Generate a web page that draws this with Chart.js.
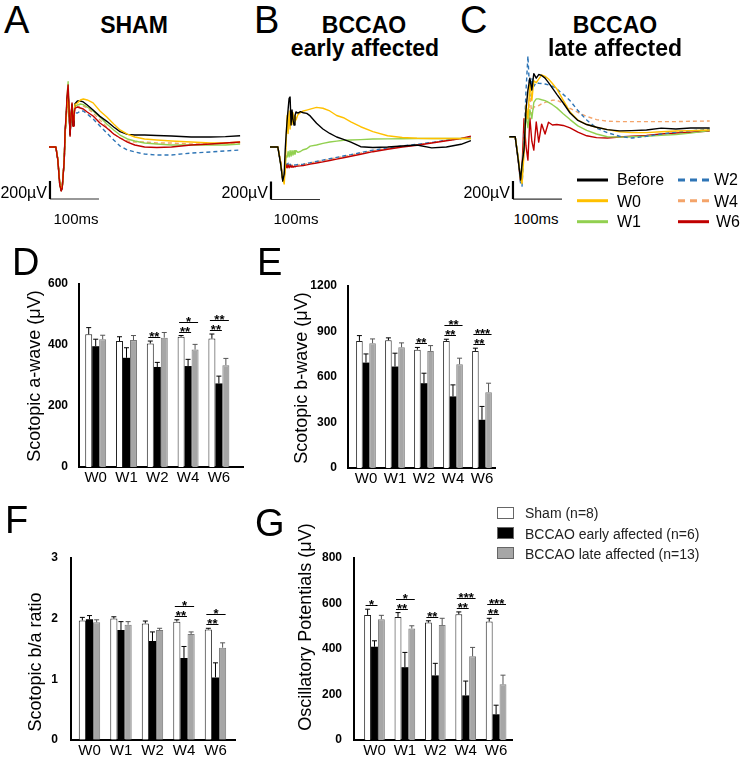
<!DOCTYPE html>
<html>
<head>
<meta charset="utf-8">
<title>ERG figure</title>
<script src="https://cdn.jsdelivr.net/npm/chart.js@4.4.1/dist/chart.umd.min.js"></script>
<style>
html,body{margin:0;padding:0;background:#fff;}
#fig{position:relative;width:740px;height:760px;overflow:hidden;font-family:"Liberation Sans",Arial,Helvetica,sans-serif;color:#000;}
#fig canvas{position:absolute;}
.tx{position:absolute;white-space:nowrap;line-height:1;}
.lt{font-size:38px;}
.ti{font-size:23px;font-weight:bold;transform:translateX(-50%);}
.sb{font-size:16px;transform:translateX(-100%);}
.ms{font-size:15px;transform:translateX(-50%);}
.lg{font-size:16px;}
.bl{font-size:14px;color:#222;}
.yt{font-size:18px;transform:translate(-50%,-50%) rotate(-90deg);}
svg.abs{position:absolute;overflow:visible;}
</style>
</head>
<body>
<div id="fig">
  <canvas id="cA" width="210" height="140" style="left:40px;top:70px"></canvas>
  <canvas id="cB" width="230" height="140" style="left:260px;top:70px"></canvas>
  <canvas id="cC" width="240" height="170" style="left:490px;top:40px"></canvas>
  <canvas id="cD" width="250" height="230" style="left:0px;top:260px"></canvas>
  <canvas id="cE" width="240" height="230" style="left:262px;top:262px"></canvas>
  <canvas id="cF" width="250" height="225" style="left:0px;top:535px"></canvas>
  <canvas id="cG" width="258" height="225" style="left:262px;top:535px"></canvas>

  <div class="tx lt" style="left:4px;top:1px">A</div>
  <div class="tx lt" style="left:254px;top:1px">B</div>
  <div class="tx lt" style="left:460px;top:1px">C</div>
  <div class="tx lt" style="left:12px;top:243px">D</div>
  <div class="tx lt" style="left:257px;top:243px">E</div>
  <div class="tx lt" style="left:5px;top:501px">F</div>
  <div class="tx lt" style="left:255px;top:504px">G</div>

  <div class="tx ti" style="left:134px;top:13.5px">SHAM</div>
  <div class="tx ti" style="left:364px;top:13.5px">BCCAO</div>
  <div class="tx ti" style="left:365px;top:37px">early affected</div>
  <div class="tx ti" style="left:615px;top:13.5px">BCCAO</div>
  <div class="tx ti" style="left:615px;top:37px">late affected</div>

  <div class="tx sb" style="left:47px;top:184.5px">200µV</div>
  <div class="tx sb" style="left:268px;top:184.5px">200µV</div>
  <div class="tx sb" style="left:510px;top:184.5px">200µV</div>
  <div class="tx ms" style="left:76px;top:211px">100ms</div>
  <div class="tx ms" style="left:296px;top:211px">100ms</div>
  <div class="tx ms" style="left:536px;top:211px">100ms</div>

  <svg class="abs" style="left:570px;top:170px" width="150" height="60">
    <line x1="7" y1="10" x2="38" y2="10" stroke="#000" stroke-width="3"/>
    <line x1="7" y1="30.7" x2="38" y2="30.7" stroke="#FFC000" stroke-width="3"/>
    <line x1="7" y1="51.7" x2="38" y2="51.7" stroke="#92D050" stroke-width="3"/>
    <line x1="108" y1="10" x2="139" y2="10" stroke="#2E75B6" stroke-width="3" stroke-dasharray="7 5"/>
    <line x1="108" y1="30.7" x2="139" y2="30.7" stroke="#F4A46A" stroke-width="3" stroke-dasharray="7 5"/>
    <line x1="108" y1="51.7" x2="139" y2="51.7" stroke="#C00000" stroke-width="3"/>
  </svg>
  <div class="tx lg" style="left:617px;top:172px">Before</div>
  <div class="tx lg" style="left:617px;top:193.5px">W0</div>
  <div class="tx lg" style="left:617px;top:214px">W1</div>
  <div class="tx lg" style="left:714px;top:172px">W2</div>
  <div class="tx lg" style="left:714px;top:193.5px">W4</div>
  <div class="tx lg" style="left:716px;top:214px">W6</div>

  <svg class="abs" style="left:490px;top:500px" width="40" height="70">
    <rect x="7.5" y="7.5" width="16" height="11" fill="#fff" stroke="#666" stroke-width="1"/>
    <rect x="7.5" y="27.5" width="16" height="11" fill="#000" stroke="#666" stroke-width="1"/>
    <rect x="7.5" y="47.5" width="16" height="11" fill="#a6a6a6" stroke="#666" stroke-width="1"/>
  </svg>
  <div class="tx bl" id="lg0" style="left:525px;top:506.2px"></div>
  <div class="tx bl" id="lg1" style="left:525px;top:526.7px"></div>
  <div class="tx bl" id="lg2" style="left:525px;top:546.7px"></div>

  <div class="tx yt" style="left:34px;top:375.5px">Scotopic a-wave (μV)</div>
  <div class="tx yt" style="left:301px;top:378px">Scotopic b-wave (μV)</div>
  <div class="tx yt" style="left:35px;top:662px">Scotopic b/a ratio</div>
  <div class="tx yt" style="left:305px;top:627px">Oscillatory Potentials (μV)</div>
</div>

<script>
// ================= DATA =================
// ERG traces: time (ms) and amplitude (µV)
const tA = [0,14,18,22,25,27,31,33,35,37,39,41,43,45,47,49,51,53,58,64,70,78,90,104,118,132,145,160,175,195,220,250,290,330,360,390];
const A_Before = [0,0,-140,-410,-480,-450,-160,170,330,540,620,380,140,350,470,240,360,480,511,511,500,466,411,340,285,222,170,140,133,133,128,122,111,111,115,125];
const A_W0 = [0,0,-130,-400,-470,-440,-150,150,300,480,560,380,200,350,440,300,380,470,488,522,533,522,490,400,333,255,189,144,111,89,78,67,55,44,44,55];
const A_W1 = [0,0,-140,-420,-485,-450,-150,180,340,570,725,400,130,350,480,240,360,450,466,477,470,444,400,333,255,189,133,89,67,44,33,22,22,22,22,33];
const A_W2 = [0,0,-140,-420,-480,-450,-160,160,320,520,600,380,130,330,430,220,330,380,377,400,400,366,311,233,155,78,11,-33,-55,-78,-89,-89,-67,-55,-44,-33];
const A_W4 = [0,0,-140,-420,-480,-450,-160,170,330,540,640,390,140,340,460,230,350,430,444,455,455,433,377,300,222,144,100,67,55,55,44,44,33,33,44,44];
const A_W6 = [0,0,-144,-422,-488,-455,-150,190,355,577,690,410,120,360,490,230,350,430,444,433,422,389,344,266,211,144,100,55,22,0,-6,0,22,33,44,55];

const tB = [0,16,22,26,29,31,33,35,37,39,41,43,45,47,49,51,53,57,62,68,75,82,95,108,122,136,150,165,185,210,240,270,300,330,360,390,410];
const B_Before = [0,0,-200,-377,-300,-33,150,300,420,540,555,244,411,300,244,350,389,377,392,380,373,345,263,200,150,111,85,55,3,-5,0,11,22,-10,0,30,70];
const B_W0 = [0,0,-180,-360,-410,-250,50,350,150,400,200,380,250,380,280,350,300,360,380,400,410,420,440,430,400,350,325,280,225,170,125,105,97,95,95,95,95];
const B_W1 = [0,0,-190,-370,-330,-200,-100,-110,-50,-110,-40,-100,-40,-90,-40,-80,-40,-60,-50,-30,-20,10,22,40,55,65,75,78,82,88,90,92,95,95,95,95,95];
const B_W2 = [0,0,-190,-380,-300,-220,-170,-200,-180,-210,-190,-205,-195,-205,-200,-200,-198,-195,-195,-190,-182,-175,-160,-145,-130,-115,-100,-85,-62,-35,-10,12,30,50,75,95,110];
const B_W4 = [0,0,-185,-375,-310,-230,-180,-210,-190,-215,-195,-210,-200,-210,-205,-205,-202,-200,-198,-193,-186,-178,-164,-150,-135,-120,-105,-90,-68,-40,-15,8,26,48,72,95,110];
const B_W6 = [0,0,-180,-370,-330,-250,-200,-230,-200,-230,-205,-225,-210,-225,-215,-220,-215,-212,-210,-205,-198,-190,-178,-165,-150,-135,-120,-103,-80,-52,-25,0,20,45,70,95,120];

const tC = [0,12,18,23,26,30,34,38,42,46,50,55,60,66,73,80,88,97,110,124,140,158,178,200,225,250,280,310,340,370,409];
const C_Before = [0,0,-250,-480,-300,-150,295,518,650,518,700,650,690,680,650,600,540,470,374,263,180,135,105,78,65,68,75,95,85,97,97];
const C_W0 = [0,0,-230,-470,-520,-200,350,200,600,400,620,600,640,685,670,640,590,530,407,274,185,135,105,78,55,45,45,55,63,68,74];
const C_W1 = [0,0,-230,-460,-350,-100,250,100,300,200,380,420,420,410,400,380,355,320,255,190,120,70,30,0,-5,0,5,15,25,40,67];
const C_W2 = [0,0,-250,-520,-550,-100,500,896,450,650,560,600,593,590,585,575,560,530,470,400,290,185,95,45,5,-15,5,30,50,65,82];
const C_W4 = [0,0,-230,-470,-400,-100,350,200,450,250,330,333,345,365,380,395,405,407,370,315,270,225,190,172,167,167,167,167,167,172,174];
const C_W6 = [0,0,-250,-500,-350,200,-100,-260,207,-50,-149,163,-60,140,30,160,130,135,125,97,50,10,-10,-14,-3,5,15,30,41,50,63];

const traceKeys = ['Before','W0','W1','W2','W4','W6'];
const scaleBarUV = 200;   // µV
const scaleBarMs = 100;   // ms

// Bar charts
const weeks = ['W0','W1','W2','W4','W6'];
const groupNames = ['Sham (n=8)','BCCAO early affected (n=6)','BCCAO late affected (n=13)'];

const aWaveSham  = [435,413,405,427,421];  const aWaveShamSem  = [22,14,8,4,15];
const aWaveEarly = [396,358,328,331,274];  const aWaveEarlySem = [23,33,15,22,24];
const aWaveLate  = [419,416,424,385,334];  const aWaveLateSem  = [13,15,17,17,22];

const bWaveSham  = [838,842,780,838,772];  const bWaveShamSem  = [35,16,15,11,18];
const bWaveEarly = [695,669,559,472,318];  const bWaveEarlySem = [57,88,66,76,88];
const bWaveLate  = [823,796,772,684,500];  const bWaveLateSem  = [28,29,35,40,59];

const ratioSham  = [1.97,2.00,1.92,1.95,1.82]; const ratioShamSem  = [0.05,0.03,0.04,0.03,0.02];
const ratioEarly = [1.99,1.81,1.63,1.35,1.03]; const ratioEarlySem = [0.06,0.14,0.15,0.19,0.24];
const ratioLate  = [1.94,1.90,1.81,1.745,1.52]; const ratioLateSem = [0.04,0.05,0.03,0.035,0.08];

const opSham  = [550,541,516,553,521];  const opShamSem  = [25,19,8,10,14];
const opEarly = [410,320,284,196,113];  const opEarlySem = [26,65,53,63,40];
const opLate  = [531,490,505,368,245];  const opLateSem  = [17,12,30,39,40];

// significance: [week index, compared group (1 = early, 2 = late), label]
const sigD = [[2,1,'**'],[3,1,'**'],[3,2,'*'],[4,1,'**'],[4,2,'**']];
const sigE = [[2,1,'**'],[3,1,'**'],[3,2,'**'],[4,1,'**'],[4,2,'***']];
const sigF = [[3,1,'**'],[3,2,'*'],[4,1,'**'],[4,2,'*']];
const sigG = [[0,1,'*'],[1,1,'**'],[1,2,'*'],[2,1,'**'],[3,1,'**'],[3,2,'***'],[4,1,'**'],[4,2,'***']];

// ================= RENDER =================
Chart.defaults.font.family = '"Liberation Sans", Arial, sans-serif';
Chart.defaults.color = '#000';

const traceStyle = {
  Before:{c:'#000000', d:[]}, W0:{c:'#FFC000', d:[]}, W1:{c:'#92D050', d:[]},
  W2:{c:'#2E75B6', d:[4,3]}, W4:{c:'#F4A46A', d:[4,3]}, W6:{c:'#C00000', d:[]}
};

function makeTrace(id, t, series, topFirst, xr, yr, origin) {
  const ds = traceKeys.map(k => ({
    label: k,
    data: t.map((x, i) => ({x: x, y: series[k][i]})),
    borderColor: traceStyle[k].c, borderDash: traceStyle[k].d, borderWidth: 1.4,
    borderJoinStyle: 'round', pointRadius: 0, tension: 0, fill: false,
    order: topFirst.indexOf(k) + 2
  }));
  ds.push({label:'scale µV', data:[{x:origin[0], y:origin[1]},{x:origin[0], y:origin[1] + scaleBarUV}],
    borderColor:'#000', borderWidth:2.2, pointRadius:0, order:0});
  ds.push({label:'scale ms', data:[{x:origin[0], y:origin[1]},{x:origin[0] + scaleBarMs, y:origin[1]}],
    borderColor:'#333', borderWidth:1.2, pointRadius:0, order:1});
  new Chart(document.getElementById(id), {
    type: 'line',
    data: {datasets: ds},
    options: {
      responsive:false, animation:false, devicePixelRatio:1,
      layout:{padding:0},
      plugins:{legend:{display:false}, tooltip:{enabled:false}},
      scales:{
        x:{type:'linear', display:false, min:xr[0], max:xr[1]},
        y:{type:'linear', display:false, min:yr[0], max:yr[1]}
      }
    }
  });
}

makeTrace('cA', tA, {Before:A_Before, W0:A_W0, W1:A_W1, W2:A_W2, W4:A_W4, W6:A_W6},
  ['W6','W0','Before','W1','W4','W2'], [-18.37, 410.2], [-699.3, 854.7], [2, -577]);
makeTrace('cB', tB, {Before:B_Before, W0:B_W0, W1:B_W1, W2:B_W2, W4:B_W4, W6:B_W6},
  ['Before','W0','W1','W6','W2','W4'], [-20.41, 448.98], [-699.3, 854.7], [2, -583]);
makeTrace('cC', tC, {Before:C_Before, W0:C_W0, W1:C_W1, W2:C_W2, W4:C_W4, W6:C_W6},
  ['Before','W0','W2','W1','W4','W6'], [-39.39, 450.4], [-813.6, 1073.4], [7.5, -692]);

groupNames.forEach((g, i) => { document.getElementById('lg' + i).textContent = g; });

const barFill   = ['#ffffff', '#000000', '#a6a6a6'];
const barBorder = ['#222222', '#000000', '#7a7a7a'];
const errColor  = ['#000000', '#000000', '#555555'];

function decoPlugin(sig) {
  return {
    id: 'deco',
    afterDatasetsDraw(chart) {
      const ctx = chart.ctx, ys = chart.scales.y;
      ctx.save();
      chart.data.datasets.forEach((ds, di) => {
        const meta = chart.getDatasetMeta(di);
        meta.data.forEach((el, i) => {
          const top = ys.getPixelForValue(ds.data[i].y + ds.sem[i]);
          ctx.strokeStyle = ds.errColor; ctx.lineWidth = 1;
          ctx.beginPath();
          ctx.moveTo(el.x, el.y); ctx.lineTo(el.x, top);
          ctx.moveTo(el.x - 2.5, top); ctx.lineTo(el.x + 2.5, top);
          ctx.stroke();
        });
      });
      const sham = chart.data.datasets[0];
      const m0 = chart.getDatasetMeta(0);
      weeks.forEach((w, wi) => {
        const items = sig.filter(s => s[0] === wi).sort((a, b) => a[1] - b[1]);
        if (!items.length) return;
        const base = ys.getPixelForValue(sham.data[wi].y + sham.sem[wi]) - 4;
        items.forEach((s, k) => {
          const y = Math.round(base - 10 * k) + 0.5;
          const x1 = m0.data[wi].x - 2;
          const x2 = chart.getDatasetMeta(s[1]).data[wi].x + 3;
          ctx.strokeStyle = '#000'; ctx.lineWidth = 1;
          ctx.beginPath(); ctx.moveTo(x1, y); ctx.lineTo(x2, y); ctx.stroke();
          ctx.fillStyle = '#000';
          ctx.font = 'bold 13px "Liberation Sans", Arial, sans-serif';
          ctx.textAlign = 'center'; ctx.textBaseline = 'alphabetic';
          ctx.fillText(s[2], (x1 + x2) / 2, y + 3);
        });
      });
      ctx.restore();
    }
  };
}

function makeBars(id, means, sems, sig, cfg) {
  new Chart(document.getElementById(id), {
    type: 'bar',
    data: {
      datasets: means.map((m, gi) => ({
        label: groupNames[gi],
        data: m.map((v, i) => ({x: i, y: v})),
        sem: sems[gi], errColor: errColor[gi],
        backgroundColor: barFill[gi], borderColor: barBorder[gi],
        borderWidth: gi === 1 ? 0 : 1, borderSkipped: 'start',
        categoryPercentage: 0.68, barPercentage: 1.0
      }))
    },
    options: {
      responsive:false, animation:false, devicePixelRatio:1,
      layout:{padding: cfg.pad},
      plugins:{legend:{display:false}, tooltip:{enabled:false}},
      scales:{
        x:{type:'linear', min:cfg.xr[0], max:cfg.xr[1], offset:false,
           grid:{display:false, drawTicks:false},
           border:{display:true, color:'#000', width:2},
           ticks:{stepSize:1, includeBounds:false, autoSkip:false, maxRotation:0, padding:2,
                  font:{size:15}, color:'#000', callback:(v) => (weeks[v] !== undefined ? weeks[v] : '')},
           afterFit:(s) => { s.height = cfg.xh; }},
        y:{type:'linear', min:0, max:cfg.ymax,
           grid:{display:false, drawTicks:false},
           border:{display:true, color:'#000', width:2},
           ticks:{stepSize:cfg.step, padding:cfg.tp, font:{size:12, weight:'bold'}, color:'#000',
                  callback:(v) => String(v)},
           afterFit:(s) => { s.width = cfg.yw; }}
      }
    },
    plugins: [decoPlugin(sig)]
  });
}

makeBars('cD', [aWaveSham, aWaveEarly, aWaveLate], [aWaveShamSem, aWaveEarlySem, aWaveLateSem], sigD,
  {pad:{left:0, top:24, right:7, bottom:0}, xr:[-0.542, 4.783], xh:23, yw:79, ymax:600, step:200, tp:11});
makeBars('cE', [bWaveSham, bWaveEarly, bWaveLate], [bWaveShamSem, bWaveEarlySem, bWaveLateSem], sigE,
  {pad:{left:0, top:24, right:7, bottom:0}, xr:[-0.62, 4.449], xh:24, yw:86, ymax:1200, step:300, tp:11});
makeBars('cF', [ratioSham, ratioEarly, ratioLate], [ratioShamSem, ratioEarlySem, ratioLateSem], sigF,
  {pad:{left:0, top:23, right:15, bottom:0}, xr:[-0.587, 4.62], xh:20, yw:71, ymax:3, step:1, tp:13});
makeBars('cG', [opSham, opEarly, opLate], [opShamSem, opEarlySem, opLateSem], sigG,
  {pad:{left:0, top:23, right:8, bottom:0}, xr:[-0.674, 4.523], xh:20, yw:92, ymax:800, step:200, tp:12});
</script>
</body>
</html>
